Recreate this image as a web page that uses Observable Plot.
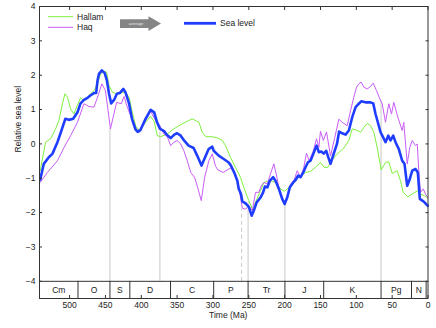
<!DOCTYPE html>
<html><head><meta charset="utf-8">
<script src="https://cdn.jsdelivr.net/npm/d3@7"></script>
<script src="https://cdn.jsdelivr.net/npm/@observablehq/plot@0.6"></script>
<style>
html,body{margin:0;padding:0;background:#fff;}
#chart svg{display:block;}
</style></head><body><div id="chart"></div>
<script>
// ---- data (time in Ma, relative sea level) ----
const seaTime = [541,536,529,524,517,513,506,501,495,489,485,480,475,471,466,463,461,459,455,451,448,445,442,438,434,430,425,422,417,413,408,405,401,394,387,382,378,374,368,364,359,354,350,345,341,334,327,322,316,312,306,301,299,292,285,278,275,270,266,264,261,259,254.5,250,246,243,239,233.6,230,227.6,224,220.6,216,212.7,208,203.4,200,196.4,192.7,188,184.8,181,177.8,174,170.9,167.6,163.9,160,155.5,152.3,149,145.5,142,136,131,127,124,119.7,115,110.4,105.7,101,96.5,93.2,87.2,80.2,76.4,73.2,70,66.2,62.5,59.3,55.5,52.3,48.5,45.3,40.7,36,32.8,29,25.4,22,17.4,14.2,11.4,8,4.9,0.3];
const seaLevel = [-1.04,-0.58,-0.39,-0.29,0.05,0.29,0.73,0.70,0.73,0.92,1.17,1.28,1.34,1.41,1.48,1.48,1.85,2.04,2.14,2.06,1.85,1.46,1.18,1.28,1.46,1.48,1.60,1.50,1.17,0.73,0.42,0.35,0.41,0.73,0.99,0.92,0.63,0.44,0.37,0.26,0.17,0.27,0.31,0.24,0.12,-0.05,-0.12,-0.34,-0.63,-0.44,-0.15,-0.08,-0.20,-0.34,-0.44,-0.54,-0.63,-0.85,-1.07,-1.31,-1.45,-1.67,-1.73,-1.83,-2.09,-1.94,-1.70,-1.56,-1.41,-1.24,-1.26,-1.07,-0.97,-1.07,-1.31,-1.60,-1.75,-1.56,-1.26,-1.12,-1.05,-0.92,-0.97,-0.83,-0.68,-0.54,-0.49,-0.29,-0.05,-0.24,-0.22,-0.28,-0.20,-0.58,-0.25,0.0,0.36,0.31,0.27,0.39,0.78,1.07,1.17,1.24,1.21,1.21,1.18,0.87,0.63,0.34,0.19,0.05,0.24,0.10,0.24,0.05,-0.15,-0.49,-0.58,-1.22,-1.02,-0.78,-0.73,-0.83,-1.60,-1.65,-1.70,-1.80];

const hallamTime = [541,533.5,526.5,519.5,515,510,506.5,503,498.6,494,489.3,484.7,480,475,470.7,466,461,456.8,452,448.4,445,440,434.4,428.9,422,417,412.5,408,403,394,387,382,377.7,373,363.7,354.5,345,335.8,329,319.6,315,310,301,293,287,282.4,275.5,268.5,261.5,254.5,250,245,240.6,233.6,229,219.7,212.7,205.7,200,194,187,177.8,170.9,163.9,157,150,145,140,134,127,117.4,110.4,105.7,98.7,94.1,89.5,84.8,80.2,75.6,70.9,65.3,59.3,54.7,50,43,38.4,34.6,28.2,20.6,14.2,10.5,4.9,0.3];
const hallamLevel = [-0.78,0.05,0.15,0.44,0.68,1.17,1.46,1.36,1.02,0.87,1.12,1.34,1.26,1.36,1.46,1.55,1.75,2.04,2.12,2.09,1.70,1.50,1.46,1.50,1.50,1.36,0.92,0.53,0.39,0.63,0.80,0.66,0.24,0.21,0.29,0.44,0.56,0.66,0.73,0.63,0.34,0.21,0.21,0.17,0.10,-0.05,-0.40,-0.68,-0.98,-1.41,-1.65,-1.90,-1.70,-1.36,-1.12,-1.07,-1.12,-1.31,-1.38,-1.26,-1.12,-0.92,-0.83,-0.80,-0.68,-0.54,-0.68,-0.69,-0.47,-0.30,-0.12,0.10,0.44,0.39,0.34,0.48,0.60,0.53,0.34,-0.10,-0.76,-0.54,-0.52,-0.86,-0.78,-1.07,-1.41,-1.54,-1.44,-1.36,-1.46,-1.51,-1.57];

const haqTime = [541,531,517,507.6,498.6,489,480,473,466,461,455,450,443,434.4,428,424,419.5,415,409,403,394,387,380,374,368.5,363.7,359,354.5,350,345,340.6,335.8,331,325.7,322,316.3,311.6,305.7,301,296.4,293,285.6,275.5,268.5,264,259,254.5,250,245,240.6,236,232.6,229,224.3,219.7,215,210.3,205.7,200,195.5,191.8,187,182.4,177.8,173.2,169.5,165.7,160,155.5,152.3,150,146,141.6,136,130.4,124.4,119.7,112.7,108,103.5,99.7,96.5,93.2,89.5,84.8,80.2,76.4,71.8,67.2,63.9,59.3,54.7,50.9,47.7,42.1,36,33.8,29,25.4,22,17.4,15,12.8,10.5,6.7,3.5,0.3];
const haqLevel = [-1.12,-0.83,-0.49,-0.10,0.24,0.63,1.17,1.09,1.07,1.36,1.75,1.55,0.44,1.21,1.17,1.38,1.07,0.83,0.48,0.34,0.68,0.95,0.68,0.53,0.29,0.21,-0.05,0.05,0.10,0.0,-0.20,-0.49,-0.83,-0.97,-1.22,-1.65,-0.97,-0.49,-0.29,-0.65,-0.76,-0.83,-0.70,-0.87,-1.26,-1.87,-1.90,-1.80,-1.94,-1.41,-1.41,-1.22,-1.12,-1.17,-0.87,-0.58,-1.02,-1.51,-1.75,-1.51,-1.17,-1.07,-0.78,-0.97,-0.68,-0.27,-0.49,-0.20,0.15,-0.10,0.37,0.10,0.35,-0.35,0.15,0.72,0.63,0.53,0.97,1.36,1.65,1.75,1.80,1.65,1.60,1.67,1.77,1.55,1.31,1.17,0.63,1.17,0.87,1.21,0.78,0.39,0.63,-0.58,-0.10,0.10,-0.05,0.0,-0.78,-1.41,-1.31,-1.46,-1.56];

// geological periods
const periodName  = ["Cm","O","S","D","C","P","Tr","J","K","Pg","N",""];
const periodStart = [542,488.3,443.7,416,359.2,299,251,199.6,145.5,65.5,23,2.6];
const periodEnd   = [488.3,443.7,416,359.2,299,251,199.6,145.5,65.5,23,2.6,0];

// extinction event markers
const eventTime   = [443.7,374,260,251,199.6,65.5];
const eventTop    = [0.45,0.35,-1.89,-1.70,-1.75,1.25];
const eventDashed = [false,false,true,false,false,false];

const xTicks = [0,50,100,150,200,250,300,350,400,450,500];
const yTicks = [-4,-3,-2,-1,0,1,2,3,4];
const bandTop = -4, bandBottom = -4.5;

// ---- tables ----
const sea = seaTime.map((t,i)=>({t, v: seaLevel[i]}));
const hallam = hallamTime.map((t,i)=>({t, v: hallamLevel[i]}));
const haq = haqTime.map((t,i)=>({t, v: haqLevel[i]}));
const periods = periodName.map((name,i)=>({name, start: periodStart[i], end: periodEnd[i]}));
const events = eventTime.map((t,i)=>({t, top: eventTop[i], dashed: eventDashed[i]}));

const GREEN = "#7ef03e", VIOLET = "#c95cf6", BLUE = "#1f3dff", AX = "#333", GRAY = "#c8c8c8";
const FONT = "'Liberation Sans', Arial, Helvetica, sans-serif";

const chart = Plot.plot({
  width: 436, height: 328,
  marginLeft: 39, marginRight: 8.5, marginTop: 6, marginBottom: 30,
  style: {fontFamily: FONT, fontSize: "8.5px", color: "#222", background: "#fff"},
  x: {domain: [542, 0]},
  y: {domain: [bandBottom, 4]},
  marks: [
    Plot.ruleX(events.filter(d=>!d.dashed), {x:"t", y1: bandTop, y2:"top", stroke: GRAY, strokeWidth: 1}),
    Plot.ruleX(events.filter(d=>d.dashed), {x:"t", y1: bandTop, y2:"top", stroke: GRAY, strokeWidth: 1, strokeDasharray: "4,3"}),
    Plot.line(hallam, {x:"t", y:"v", stroke: GREEN, strokeWidth: 1}),
    Plot.line(haq, {x:"t", y:"v", stroke: VIOLET, strokeWidth: 1}),
    Plot.line(sea, {x:"t", y:"v", stroke: BLUE, strokeWidth: 2.6, strokeLinejoin: "round"}),
    Plot.ruleY([bandTop], {stroke: AX}),
    Plot.ruleX(periods.slice(1), {x:"start", y1: bandBottom, y2: bandTop, stroke: AX}),
    Plot.text(periods.filter(d=>d.name), {x: d=>(d.start+d.end)/2, y: (bandTop+bandBottom)/2, text:"name", fill:"#222"}),
    Plot.frame({stroke: AX}),
    Plot.axisY({anchor:"left", ticks: yTicks, tickSize: 0, tickPadding: 4, label: null, color:"#222"}),
    Plot.axisY({anchor:"left", ticks: yTicks, tickSize: -3, tickFormat: ()=>"", label: null, stroke: AX}),
    Plot.axisY({anchor:"right", ticks: yTicks, tickSize: -3, tickFormat: ()=>"", label: null, stroke: AX}),
    Plot.axisX({anchor:"bottom", ticks: xTicks, tickSize: 0, tickPadding: 3, label: null, color:"#222"}),
    Plot.axisX({anchor:"bottom", ticks: xTicks, tickSize: -3, tickFormat: ()=>"", label: null, stroke: AX}),
    Plot.axisX({anchor:"top", ticks: xTicks, tickSize: -3, tickFormat: ()=>"", label: null, stroke: AX}),
    Plot.text(["Time (Ma)"], {frameAnchor:"bottom", lineAnchor:"middle", dy: 17, dx: -5.5, fill:"#222"}),
    Plot.text(["Relative sea level"], {frameAnchor:"left", rotate: -90, dx: -21, fill:"#222"})
  ]
});

// ---- legend (layout drawn on top of the plot) ----
const svg = d3.select(chart);
const lg = svg.append("g").attr("font-family", FONT).attr("font-size", 8.5).attr("fill", "#222").attr("text-anchor", "start");
lg.append("line").attr("x1",48).attr("x2",73).attr("y1",16.7).attr("y2",16.7).attr("stroke",GREEN).attr("stroke-width",1);
lg.append("text").attr("x",77).attr("y",16.7).attr("dy","0.35em").attr("text-anchor","start").text("Hallam");
lg.append("line").attr("x1",48).attr("x2",73).attr("y1",27.3).attr("y2",27.3).attr("stroke",VIOLET).attr("stroke-width",1);
lg.append("text").attr("x",77).attr("y",27.3).attr("dy","0.35em").attr("text-anchor","start").text("Haq");
lg.append("polygon").attr("points","120,19.2 148.5,19.2 148.5,16.2 161,23.6 148.5,31 148.5,28 120,28").attr("fill","#858585");
lg.append("text").attr("x",136).attr("y",23.8).attr("dy","0.35em").attr("text-anchor","middle").attr("font-size",4).attr("fill","#e8e8e8").text("average");
lg.append("line").attr("x1",184).attr("x2",216).attr("y1",23.3).attr("y2",23.3).attr("stroke",BLUE).attr("stroke-width",2.8);
lg.append("text").attr("x",220).attr("y",23.5).attr("dy","0.35em").attr("text-anchor","start").text("Sea level");

document.getElementById("chart").appendChild(chart);
</script>
</body></html>
